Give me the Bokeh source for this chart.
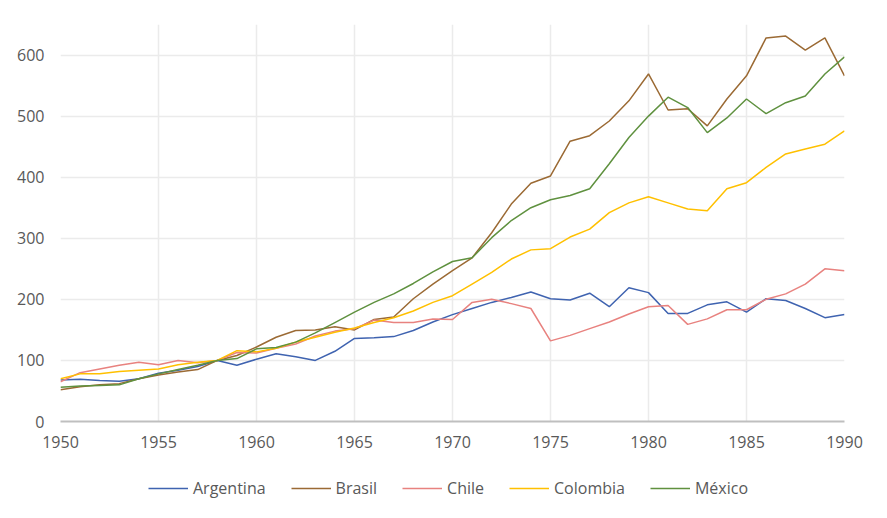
from bokeh.plotting import figure
from bokeh.models import Legend, LegendItem, FixedTicker, Range1d
from bokeh.layouts import column
from bokeh.embed import file_html
from bokeh.resources import INLINE

years = list(range(1950, 1991))

argentina = [68, 69, 67, 66, 70, 79, 84, 90, 100, 92, 102, 111, 106, 100, 115, 136, 137, 139, 149, 163, 175,
             185, 195, 203, 212, 201, 199, 210, 188, 219, 211, 177, 177, 191, 196, 179, 201, 198, 185, 170, 175]
brasil = [52, 57, 60, 62, 70, 76, 81, 85, 100, 108, 122, 138, 149, 150, 155, 150, 167, 171, 201, 225, 247,
          268, 309, 356, 390, 402, 459, 468, 492, 525, 569, 510, 512, 484, 528, 566, 628, 631, 608, 628, 566]
chile = [65, 80, 86, 92, 97, 93, 100, 96, 100, 113, 112, 120, 127, 140, 148, 152, 166, 162, 162, 168, 167,
         195, 200, 193, 185, 132, 141, 152, 163, 176, 188, 190, 159, 168, 183, 183, 200, 209, 225, 250, 247]
colombia = [70, 78, 78, 82, 84, 86, 93, 97, 100, 116, 114, 120, 130, 138, 146, 153, 162, 170, 181, 195, 206,
            225, 244, 266, 281, 283, 302, 315, 342, 358, 368, 358, 348, 345, 381, 391, 416, 438, 446, 454, 476]
mexico = [56, 58, 59, 60, 70, 78, 85, 92, 100, 103, 119, 121, 130, 145, 162, 179, 195, 209, 226, 245, 262,
          268, 301, 329, 350, 363, 370, 381, 422, 465, 500, 531, 514, 473, 497, 528, 504, 522, 533, 569, 597]

series_names = ["Argentina", "Brasil", "Chile", "Colombia", "México"]
series_values = [argentina, brasil, chile, colombia, mexico]
series_colors = ["#3F63B0", "#9B6A34", "#E8827F", "#FFC000", "#5F913F"]

x_ticks = [1950, 1955, 1960, 1965, 1970, 1975, 1980, 1985, 1990]
y_ticks = [0, 100, 200, 300, 400, 500, 600]

FONT = "Open Sans"
TXT = "#595959"

p = figure(width=887, height=460, output_backend="svg", toolbar_location=None,
           x_range=Range1d(1950, 1990), y_range=Range1d(0, 650),
           min_border_left=60, min_border_right=43, min_border_top=24, min_border_bottom=39)
p.outline_line_color = None
p.background_fill_color = "white"
p.border_fill_color = "white"

p.xaxis.ticker = FixedTicker(ticks=x_ticks)
p.yaxis.ticker = FixedTicker(ticks=y_ticks)
p.xgrid.ticker = FixedTicker(ticks=x_ticks)
p.ygrid.ticker = FixedTicker(ticks=y_ticks)
for g in (p.xgrid, p.ygrid):
    g.grid_line_color = "#EBEBEB"
    g.grid_line_width = 1.5

for ax in (p.xaxis, p.yaxis):
    ax.major_tick_line_color = None
    ax.minor_tick_line_color = None
    ax.major_label_text_font = FONT
    ax.major_label_text_font_size = "16px"
    ax.major_label_text_color = TXT
p.xaxis.axis_line_color = "#BFBFBF"
p.xaxis.axis_line_width = 2
p.xaxis.major_label_standoff = 8
p.yaxis.axis_line_color = None
p.yaxis.major_label_standoff = 10

for vals, col in zip(series_values, series_colors):
    p.line(years, vals, line_color=col, line_width=1.5)

# legend strip below the chart
lg = figure(width=887, height=58, output_backend="svg", toolbar_location=None,
            x_range=Range1d(0, 1), y_range=Range1d(0, 1),
            x_axis_location=None, y_axis_location=None,
            min_border_left=0, min_border_right=0, min_border_top=0, min_border_bottom=0)
lg.grid.visible = False
lg.outline_line_color = None
lg.border_fill_color = "white"
items = []
for name, col in zip(series_names, series_colors):
    r = lg.line([-2, -1], [-2, -1], line_color=col, line_width=1.5)
    items.append(LegendItem(label=name, renderers=[r]))
legend = Legend(items=items, orientation="horizontal", location=(88, 19),
                label_text_font=FONT, label_text_font_size="16px", label_text_color=TXT,
                glyph_width=40, label_standoff=5, spacing=25,
                border_line_color=None, background_fill_alpha=0, margin=0, padding=0)
lg.add_layout(legend, "center")

layout = column(p, lg, spacing=0)
open("out.html", "w").write(file_html(layout, INLINE))
